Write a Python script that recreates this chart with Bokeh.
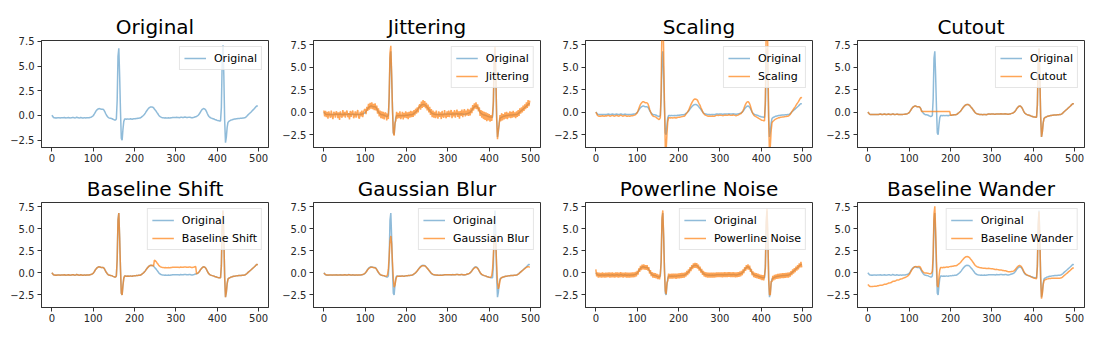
from bokeh.plotting import figure
from bokeh.layouts import column, row
from bokeh.models import Range1d, FixedTicker, CustomJSTickFormatter, Legend, LegendItem
from bokeh.embed import file_html
from bokeh.resources import INLINE

# sample index of every stored value (every 2nd sample of the 500-sample ECG strip)
SAMPLE_INDEX = list(range(0, 500, 2))

ORIGINAL = [
    0.02, -0.08, -0.2, -0.24, -0.25, -0.24, -0.25, -0.24, -0.23, -0.24, -0.25, -0.24, -0.23, -0.24, -0.22, -0.2, -0.22, -0.25, -0.24, -0.22, -0.2, -0.22, -0.25, -0.24, -0.22,
    -0.2, -0.21, -0.24, -0.25, -0.22, -0.18, -0.2, -0.24, -0.25, -0.23, -0.2, -0.22, -0.25, -0.25, -0.24, -0.24, -0.25, -0.24, -0.23, -0.22, -0.22, -0.2, -0.18, -0.15, -0.1,
    -0.03, 0.1, 0.25, 0.4, 0.52, 0.6, 0.66, 0.7, 0.69, 0.65, 0.62, 0.63, 0.62, 0.55, 0.4, 0.2, 0.05, -0.08, -0.18, -0.24, -0.27, -0.28, -0.3, -0.33, -0.38,
    -0.42, -0.47, -0.45, -0.35, 1.5, 6.0, 6.8, 4.0, 0.5, -2.3, -2.5, -1.4, -0.6, -0.35, -0.35, -0.38, -0.36, -0.35, -0.37, -0.36, -0.34, -0.36, -0.38, -0.35, -0.33,
    -0.32, -0.33, -0.3, -0.3, -0.28, -0.27, -0.26, -0.25, -0.2, -0.12, -0.05, 0.03, 0.12, 0.24, 0.38, 0.5, 0.62, 0.72, 0.8, 0.85, 0.87, 0.86, 0.84, 0.78, 0.66,
    0.55, 0.45, 0.32, 0.2, 0.06, -0.05, -0.12, -0.17, -0.2, -0.22, -0.24, -0.25, -0.24, -0.25, -0.26, -0.25, -0.24, -0.25, -0.26, -0.24, -0.22, -0.2, -0.2, -0.21, -0.2,
    -0.2, -0.19, -0.2, -0.21, -0.22, -0.2, -0.18, -0.19, -0.2, -0.2, -0.18, -0.16, -0.18, -0.2, -0.2, -0.19, -0.17, -0.18, -0.2, -0.22, -0.22, -0.2, -0.18, -0.15, -0.12,
    -0.1, -0.05, 0.02, 0.12, 0.25, 0.4, 0.52, 0.62, 0.68, 0.7, 0.65, 0.56, 0.4, 0.2, 0.02, -0.1, -0.18, -0.23, -0.27, -0.3, -0.33, -0.36, -0.4, -0.43, -0.46,
    -0.5, -0.52, -0.53, -0.55, -0.55, 0.8, 5.5, 7.1, 4.0, -0.5, -2.75, -2.2, -1.2, -0.7, -0.6, -0.55, -0.5, -0.45, -0.43, -0.4, -0.38, -0.36, -0.35, -0.33, -0.32,
    -0.31, -0.3, -0.3, -0.29, -0.28, -0.27, -0.26, -0.25, -0.24, -0.2, -0.14, -0.06, 0.04, 0.12, 0.2, 0.28, 0.36, 0.45, 0.54, 0.62, 0.7, 0.8, 0.9, 0.98, 0.92,
]

JITTERING = [
    0.2, -0.45, 0.15, -0.55, 0.05, -0.7, 0.1, -0.3, -0.6, 0.2, -0.45, -0.75, 0.05, -0.1, -0.6, 0.1, -0.05, -0.65, 0.0, -0.85, 0.1, -0.4, -0.6, 0.25, -0.45,
    0.05, -0.6, 0.0, 0.2, -0.55, -0.1, -0.8, 0.15, -0.5, 0.0, 0.2, -0.65, -0.4, 0.1, -0.6, -0.05, 0.25, -0.55, -0.7, 0.05, -0.45, 0.2, -0.55, 0.0, 0.3,
    0.35, -0.2, 0.6, 0.15, 0.95, 0.3, 1.05, 0.4, 1.1, 0.35, 0.95, 0.25, 1.0, 0.2, 0.75, -0.15, 0.45, -0.45, 0.2, -0.65, 0.1, -0.7, 0.05, -0.8, -0.05,
    -0.1, -0.9, -0.15, -0.75, 1.9, 6.6, 7.4, 4.3, 0.3, -2.2, -2.6, -1.2, -0.95, 0.05, -0.7, -0.05, -0.65, 0.1, -0.75, -0.45, 0.05, -0.8, -0.05, -0.6, 0.1,
    -0.65, 0.0, -0.75, 0.05, -0.6, 0.15, -0.55, 0.1, -0.5, 0.25, -0.35, 0.4, -0.15, 0.55, 0.0, 0.7, 0.9, 0.3, 1.2, 0.5, 1.35, 0.6, 1.25, 0.45, 1.05,
    0.2, 0.85, 0.0, 0.6, -0.3, 0.35, -0.55, 0.2, -0.6, 0.05, -0.65, 0.2, -0.45, -0.7, 0.1, -0.5, 0.0, -0.75, 0.15, -0.45, -0.6, 0.25, -0.4, -0.65, 0.1,
    -0.5, 0.2, -0.55, 0.0, 0.25, -0.65, 0.05, -0.45, 0.25, -0.6, -0.05, 0.3, -0.5, 0.1, -0.7, 0.15, -0.4, 0.3, -0.55, 0.05, 0.35, -0.45, 0.2, -0.35, 0.4,
    -0.4, 0.3, -0.35, 0.5, -0.1, 0.8, 0.2, 1.0, 0.4, 1.1, 0.35, 0.9, 0.1, 0.55, -0.4, 0.25, -0.6, 0.15, -0.75, 0.05, -0.85, 0.0, -1.0, -0.1, -0.9,
    -0.2, -1.05, -0.3, -0.95, -0.2, 1.2, 6.0, 7.3, 4.2, -0.8, -3.0, -2.0, -1.4, -0.3, -1.0, -0.1, -0.9, -0.2, -0.8, 0.0, -0.7, 0.05, -0.75, -0.05, -0.6,
    0.1, -0.65, 0.05, -0.6, 0.15, -0.55, 0.0, -0.65, 0.1, -0.5, 0.25, -0.4, 0.45, -0.15, 0.55, 0.0, 0.75, 0.15, 0.9, 0.35, 1.1, 0.5, 1.35, 0.7, 1.3,
]

SCALING = [
    0.03, -0.14, -0.34, -0.41, -0.43, -0.41, -0.43, -0.41, -0.39, -0.41, -0.43, -0.41, -0.39, -0.41, -0.37, -0.34, -0.37, -0.43, -0.41, -0.37, -0.34, -0.37, -0.43, -0.41, -0.37,
    -0.34, -0.36, -0.41, -0.43, -0.37, -0.31, -0.34, -0.41, -0.43, -0.39, -0.34, -0.37, -0.43, -0.43, -0.41, -0.41, -0.43, -0.41, -0.39, -0.37, -0.37, -0.34, -0.31, -0.26, -0.17,
    -0.05, 0.17, 0.43, 0.68, 0.88, 1.02, 1.12, 1.19, 1.17, 1.11, 1.05, 1.07, 1.05, 0.94, 0.68, 0.34, 0.09, -0.14, -0.31, -0.41, -0.46, -0.48, -0.51, -0.56, -0.65,
    -0.71, -0.8, -0.77, -0.6, 2.55, 10.2, 11.56, 6.8, 0.85, -3.91, -4.25, -2.38, -1.02, -0.6, -0.6, -0.65, -0.61, -0.6, -0.63, -0.61, -0.58, -0.61, -0.65, -0.6, -0.56,
    -0.54, -0.56, -0.51, -0.51, -0.48, -0.46, -0.44, -0.43, -0.34, -0.2, -0.09, 0.05, 0.2, 0.41, 0.65, 0.85, 1.05, 1.22, 1.36, 1.45, 1.48, 1.46, 1.43, 1.33, 1.12,
    0.94, 0.77, 0.54, 0.34, 0.1, -0.09, -0.2, -0.29, -0.34, -0.37, -0.41, -0.43, -0.41, -0.43, -0.44, -0.43, -0.41, -0.43, -0.44, -0.41, -0.37, -0.34, -0.34, -0.36, -0.34,
    -0.34, -0.32, -0.34, -0.36, -0.37, -0.34, -0.31, -0.32, -0.34, -0.34, -0.31, -0.27, -0.31, -0.34, -0.34, -0.32, -0.29, -0.31, -0.34, -0.37, -0.37, -0.34, -0.31, -0.26, -0.2,
    -0.17, -0.09, 0.03, 0.2, 0.43, 0.68, 0.88, 1.05, 1.16, 1.19, 1.11, 0.95, 0.68, 0.34, 0.03, -0.17, -0.31, -0.39, -0.46, -0.51, -0.56, -0.61, -0.68, -0.73, -0.78,
    -0.85, -0.88, -0.9, -0.94, -0.94, 1.36, 9.35, 12.07, 6.8, -0.85, -4.68, -3.74, -2.04, -1.19, -1.02, -0.94, -0.85, -0.77, -0.73, -0.68, -0.65, -0.61, -0.6, -0.56, -0.54,
    -0.53, -0.51, -0.51, -0.49, -0.48, -0.46, -0.44, -0.43, -0.41, -0.34, -0.24, -0.1, 0.07, 0.2, 0.34, 0.48, 0.61, 0.77, 0.92, 1.05, 1.19, 1.36, 1.53, 1.67, 1.56,
]

CUTOUT = [
    0.02, -0.08, -0.2, -0.24, -0.25, -0.24, -0.25, -0.24, -0.23, -0.24, -0.25, -0.24, -0.23, -0.24, -0.22, -0.2, -0.22, -0.25, -0.24, -0.22, -0.2, -0.22, -0.25, -0.24, -0.22,
    -0.2, -0.21, -0.24, -0.25, -0.22, -0.18, -0.2, -0.24, -0.25, -0.23, -0.2, -0.22, -0.25, -0.25, -0.24, -0.24, -0.25, -0.24, -0.23, -0.22, -0.22, -0.2, -0.18, -0.15, -0.1,
    -0.03, 0.1, 0.25, 0.4, 0.52, 0.6, 0.66, 0.7, 0.69, 0.65, 0.62, 0.63, 0.62, 0.55, 0.4, 0.1, 0.1, 0.1, 0.1, 0.1, 0.1, 0.1, 0.1, 0.1, 0.1,
    0.1, 0.1, 0.1, 0.1, 0.1, 0.1, 0.1, 0.1, 0.1, 0.1, 0.1, 0.1, 0.1, 0.1, 0.1, 0.1, 0.1, 0.1, 0.1, 0.1, 0.1, 0.1, 0.1, 0.1, 0.1,
    -0.32, -0.33, -0.3, -0.3, -0.28, -0.27, -0.26, -0.25, -0.2, -0.12, -0.05, 0.03, 0.12, 0.24, 0.38, 0.5, 0.62, 0.72, 0.8, 0.85, 0.87, 0.86, 0.84, 0.78, 0.66,
    0.55, 0.45, 0.32, 0.2, 0.06, -0.05, -0.12, -0.17, -0.2, -0.22, -0.24, -0.25, -0.24, -0.25, -0.26, -0.25, -0.24, -0.25, -0.26, -0.24, -0.22, -0.2, -0.2, -0.21, -0.2,
    -0.2, -0.19, -0.2, -0.21, -0.22, -0.2, -0.18, -0.19, -0.2, -0.2, -0.18, -0.16, -0.18, -0.2, -0.2, -0.19, -0.17, -0.18, -0.2, -0.22, -0.22, -0.2, -0.18, -0.15, -0.12,
    -0.1, -0.05, 0.02, 0.12, 0.25, 0.4, 0.52, 0.62, 0.68, 0.7, 0.65, 0.56, 0.4, 0.2, 0.02, -0.1, -0.18, -0.23, -0.27, -0.3, -0.33, -0.36, -0.4, -0.43, -0.46,
    -0.5, -0.52, -0.53, -0.55, -0.55, 0.8, 5.5, 7.1, 4.0, -0.5, -2.75, -2.2, -1.2, -0.7, -0.6, -0.55, -0.5, -0.45, -0.43, -0.4, -0.38, -0.36, -0.35, -0.33, -0.32,
    -0.31, -0.3, -0.3, -0.29, -0.28, -0.27, -0.26, -0.25, -0.24, -0.2, -0.14, -0.06, 0.04, 0.12, 0.2, 0.28, 0.36, 0.45, 0.54, 0.62, 0.7, 0.8, 0.9, 0.98, 0.92,
]

BASELINE_SHIFT = [
    0.02, -0.08, -0.2, -0.24, -0.25, -0.24, -0.25, -0.24, -0.23, -0.24, -0.25, -0.24, -0.23, -0.24, -0.22, -0.2, -0.22, -0.25, -0.24, -0.22, -0.2, -0.22, -0.25, -0.24, -0.22,
    -0.2, -0.21, -0.24, -0.25, -0.22, -0.18, -0.2, -0.24, -0.25, -0.23, -0.2, -0.22, -0.25, -0.25, -0.24, -0.24, -0.25, -0.24, -0.23, -0.22, -0.22, -0.2, -0.18, -0.15, -0.1,
    -0.03, 0.1, 0.25, 0.4, 0.52, 0.6, 0.66, 0.7, 0.69, 0.65, 0.62, 0.63, 0.62, 0.55, 0.4, 0.2, 0.05, -0.08, -0.18, -0.24, -0.27, -0.28, -0.3, -0.33, -0.38,
    -0.42, -0.47, -0.45, -0.35, 1.5, 6.0, 6.8, 4.0, 0.5, -2.3, -2.5, -1.4, -0.6, -0.35, -0.35, -0.38, -0.36, -0.35, -0.37, -0.36, -0.34, -0.36, -0.38, -0.35, -0.33,
    -0.32, -0.33, -0.3, -0.3, -0.28, -0.27, -0.26, -0.25, -0.2, -0.12, -0.05, 0.03, 0.12, 0.24, 0.38, 0.5, 0.62, 0.72, 0.8, 0.85, 0.87, 0.86, 0.84, 0.78, 1.45,
    1.4, 1.3, 1.17, 1.05, 0.91, 0.8, 0.73, 0.68, 0.65, 0.63, 0.61, 0.6, 0.61, 0.6, 0.59, 0.6, 0.61, 0.6, 0.59, 0.61, 0.63, 0.65, 0.65, 0.64, 0.65,
    0.65, 0.66, 0.65, 0.64, 0.63, 0.65, 0.67, 0.66, 0.65, 0.65, 0.67, 0.69, 0.67, 0.65, 0.65, 0.66, 0.68, 0.67, 0.65, 0.63, 0.63, 0.65, 0.67, 0.7, 0.73,
    -0.1, -0.05, 0.02, 0.12, 0.25, 0.4, 0.52, 0.62, 0.68, 0.7, 0.65, 0.56, 0.4, 0.2, 0.02, -0.1, -0.18, -0.23, -0.27, -0.3, -0.33, -0.36, -0.4, -0.43, -0.46,
    -0.5, -0.52, -0.53, -0.55, -0.55, 0.8, 5.5, 7.1, 4.0, -0.5, -2.75, -2.2, -1.2, -0.7, -0.6, -0.55, -0.5, -0.45, -0.43, -0.4, -0.38, -0.36, -0.35, -0.33, -0.32,
    -0.31, -0.3, -0.3, -0.29, -0.28, -0.27, -0.26, -0.25, -0.24, -0.2, -0.14, -0.06, 0.04, 0.12, 0.2, 0.28, 0.36, 0.45, 0.54, 0.62, 0.7, 0.8, 0.9, 0.98, 0.92,
]

GAUSSIAN_BLUR = [
    -0.02, -0.1, -0.17, -0.22, -0.24, -0.24, -0.24, -0.24, -0.24, -0.24, -0.24, -0.24, -0.24, -0.23, -0.22, -0.22, -0.23, -0.23, -0.23, -0.22, -0.22, -0.23, -0.23, -0.23, -0.22,
    -0.21, -0.22, -0.23, -0.23, -0.22, -0.2, -0.21, -0.23, -0.24, -0.23, -0.22, -0.23, -0.24, -0.24, -0.24, -0.24, -0.24, -0.24, -0.23, -0.22, -0.21, -0.19, -0.17, -0.13, -0.08,
    0.0, 0.1, 0.23, 0.36, 0.47, 0.56, 0.62, 0.65, 0.66, 0.64, 0.62, 0.6, 0.57, 0.5, 0.38, 0.22, 0.08, -0.05, -0.15, -0.22, -0.26, -0.28, -0.3, -0.32, -0.34,
    -0.36, -0.35, -0.2, 0.4, 1.9, 3.6, 4.2, 3.3, 1.2, -0.6, -1.6, -1.4, -0.8, -0.45, -0.37, -0.36, -0.36, -0.36, -0.36, -0.35, -0.35, -0.36, -0.36, -0.35, -0.33,
    -0.32, -0.31, -0.3, -0.29, -0.28, -0.27, -0.25, -0.22, -0.17, -0.11, -0.04, 0.04, 0.13, 0.25, 0.37, 0.49, 0.6, 0.69, 0.76, 0.81, 0.83, 0.83, 0.8, 0.74, 0.65,
    0.54, 0.43, 0.31, 0.19, 0.07, -0.03, -0.1, -0.16, -0.19, -0.21, -0.23, -0.24, -0.24, -0.25, -0.25, -0.25, -0.25, -0.25, -0.25, -0.24, -0.22, -0.21, -0.2, -0.2, -0.2,
    -0.2, -0.2, -0.2, -0.21, -0.21, -0.2, -0.19, -0.19, -0.2, -0.19, -0.18, -0.17, -0.18, -0.19, -0.2, -0.19, -0.18, -0.18, -0.2, -0.21, -0.21, -0.2, -0.18, -0.15, -0.12,
    -0.09, -0.04, 0.03, 0.12, 0.24, 0.37, 0.48, 0.57, 0.63, 0.64, 0.6, 0.51, 0.38, 0.22, 0.06, -0.07, -0.16, -0.22, -0.26, -0.3, -0.33, -0.36, -0.4, -0.43, -0.45,
    -0.48, -0.5, -0.48, -0.3, 0.4, 2.0, 3.8, 4.4, 3.2, 0.9, -1.1, -1.8, -1.5, -0.9, -0.6, -0.52, -0.48, -0.45, -0.42, -0.4, -0.38, -0.36, -0.35, -0.33, -0.32,
    -0.31, -0.3, -0.3, -0.29, -0.28, -0.27, -0.26, -0.25, -0.23, -0.2, -0.14, -0.07, 0.02, 0.1, 0.18, 0.26, 0.34, 0.42, 0.5, 0.57, 0.63, 0.68, 0.72, 0.7, 0.62,
]

POWERLINE_NOISE = [
    0.4, -0.38, 0.08, -0.52, 0.03, -0.5, 0.02, -0.53, 0.06, -0.5, 0.02, -0.53, 0.05, -0.51, 0.05, -0.47, 0.06, -0.52, 0.03, -0.5, 0.08, -0.49, 0.02, -0.52, 0.06,
    -0.47, 0.07, -0.52, 0.03, -0.5, 0.1, -0.48, 0.04, -0.53, 0.05, -0.48, 0.06, -0.53, 0.03, -0.52, 0.04, -0.53, 0.04, -0.51, 0.06, -0.5, 0.08, -0.46, 0.13, -0.38,
    0.25, -0.18, 0.53, 0.12, 0.8, 0.32, 0.94, 0.42, 0.97, 0.37, 0.9, 0.35, 0.9, 0.27, 0.68, -0.08, 0.33, -0.36, 0.1, -0.52, 0.01, -0.56, -0.02, -0.61, -0.1,
    -0.7, -0.19, -0.73, -0.07, 1.22, 6.3, 7.1, 4.28, 0.22, -2.02, -2.4, -1.12, -0.88, -0.07, -0.63, -0.1, -0.64, -0.07, -0.65, -0.08, -0.62, -0.08, -0.66, -0.07, -0.61,
    -0.04, -0.61, -0.02, -0.58, 0.0, -0.55, 0.02, -0.53, 0.08, -0.4, 0.23, -0.25, 0.4, -0.04, 0.66, 0.22, 0.9, 0.44, 1.08, 0.57, 1.15, 0.58, 1.12, 0.5, 0.94,
    0.27, 0.73, 0.04, 0.48, -0.22, 0.23, -0.4, 0.11, -0.48, 0.06, -0.52, 0.03, -0.52, 0.03, -0.54, 0.03, -0.52, 0.03, -0.54, 0.04, -0.5, 0.08, -0.48, 0.07, -0.48,
    0.08, -0.47, 0.08, -0.49, 0.06, -0.48, 0.1, -0.47, 0.08, -0.48, 0.1, -0.44, 0.1, -0.48, 0.08, -0.47, 0.11, -0.46, 0.08, -0.5, 0.06, -0.48, 0.1, -0.43, 0.16,
    -0.38, 0.23, -0.26, 0.4, -0.03, 0.68, 0.24, 0.9, 0.4, 0.98, 0.37, 0.84, 0.12, 0.48, -0.26, 0.18, -0.46, 0.05, -0.55, -0.02, -0.61, -0.08, -0.68, -0.15, -0.74,
    -0.22, -0.8, -0.25, -0.83, -0.27, 0.52, 5.78, 7.3, 4.28, -0.78, -2.47, -2.48, -0.92, -0.98, -0.32, -0.83, -0.22, -0.73, -0.15, -0.68, -0.1, -0.64, -0.07, -0.61, -0.04,
    -0.59, -0.02, -0.58, -0.01, -0.56, 0.01, -0.54, 0.03, -0.52, 0.08, -0.42, 0.22, -0.24, 0.4, -0.08, 0.56, 0.08, 0.73, 0.26, 0.9, 0.42, 1.08, 0.62, 1.26, 0.64,
]

BASELINE_WANDER = [
    -1.3, -1.4, -1.51, -1.55, -1.55, -1.54, -1.54, -1.52, -1.5, -1.5, -1.5, -1.48, -1.45, -1.45, -1.41, -1.38, -1.38, -1.39, -1.36, -1.32, -1.28, -1.28, -1.28, -1.24, -1.2,
    -1.15, -1.13, -1.12, -1.1, -1.03, -0.96, -0.94, -0.95, -0.92, -0.87, -0.8, -0.79, -0.79, -0.76, -0.72, -0.69, -0.67, -0.63, -0.59, -0.55, -0.52, -0.47, -0.42, -0.36, -0.28,
    -0.18, -0.03, 0.15, 0.32, 0.47, 0.57, 0.66, 0.72, 0.73, 0.71, 0.7, 0.73, 0.74, 0.7, 0.57, 0.35, 0.22, 0.11, 0.04, 0.0, -0.01, -0.01, -0.02, -0.04, -0.08,
    -0.09, -0.09, 0.0, 0.18, 2.12, 6.7, 7.56, 4.8, 1.34, -1.43, -1.6, -0.48, 0.34, 0.61, 0.62, 0.6, 0.63, 0.65, 0.63, 0.65, 0.68, 0.67, 0.65, 0.69, 0.72,
    0.73, 0.73, 0.76, 0.77, 0.79, 0.81, 0.82, 0.83, 0.88, 0.96, 1.03, 1.1, 1.19, 1.3, 1.43, 1.54, 1.65, 1.74, 1.81, 1.85, 1.86, 1.84, 1.81, 1.74, 1.61,
    1.49, 1.38, 1.24, 1.11, 0.96, 0.85, 0.77, 0.71, 0.67, 0.64, 0.61, 0.59, 0.59, 0.57, 0.55, 0.55, 0.55, 0.53, 0.51, 0.52, 0.52, 0.53, 0.52, 0.5, 0.49,
    0.47, 0.47, 0.44, 0.42, 0.39, 0.4, 0.41, 0.38, 0.36, 0.34, 0.35, 0.35, 0.32, 0.28, 0.27, 0.26, 0.26, 0.24, 0.2, 0.16, 0.15, 0.15, 0.15, 0.16, 0.18,
    0.18, 0.21, 0.27, 0.35, 0.47, 0.6, 0.71, 0.79, 0.84, 0.84, 0.78, 0.68, 0.5, 0.29, 0.09, -0.04, -0.13, -0.19, -0.25, -0.29, -0.33, -0.37, -0.42, -0.47, -0.51,
    -0.56, -0.59, -0.61, -0.64, -0.65, 0.69, 5.38, 6.97, 3.86, -0.65, -2.91, -2.37, -1.37, -0.88, -0.79, -0.75, -0.71, -0.67, -0.66, -0.64, -0.63, -0.62, -0.61, -0.6, -0.6,
    -0.6, -0.6, -0.6, -0.6, -0.6, -0.59, -0.59, -0.59, -0.58, -0.55, -0.49, -0.42, -0.32, -0.25, -0.17, -0.09, -0.02, 0.07, 0.16, 0.23, 0.31, 0.41, 0.5, 0.58, 0.52,
]

PANEL_TITLES = ["Original", "Jittering", "Scaling", "Cutout",
                "Baseline Shift", "Gaussian Blur", "Powerline Noise", "Baseline Wander"]
AUGMENTED = [None, JITTERING, SCALING, CUTOUT,
             BASELINE_SHIFT, GAUSSIAN_BLUR, POWERLINE_NOISE, BASELINE_WANDER]
X_TICKS = [0, 100, 200, 300, 400, 500]
Y_TICKS = [-2.5, 0.0, 2.5, 5.0, 7.5]

for arr in [ORIGINAL] + AUGMENTED[1:]:
    assert len(arr) == len(SAMPLE_INDEX), len(arr)

FONT = "DejaVu Sans"
BLUE = "#1f77b4"
ORANGE = "#ff7f0e"
SPINE = "#333333"
TEXT = "#262626"
PAGE_PAD = 8  # the page template has no body margin, so reserve it here


def make_panel(title, aug, frame_h, first_col, first_row):
    if aug is None:
        lo, hi = min(ORIGINAL), max(ORIGINAL)
        pad = 0.05 * (hi - lo)
        yr = Range1d(lo - pad, hi + pad)
    else:
        yr = Range1d(-3.92, 8.0)
    p = figure(frame_width=227, frame_height=frame_h,
               x_range=Range1d(-25, 524), y_range=yr,
               output_backend="svg", toolbar_location=None, tools="",
               min_border_left=33 + (PAGE_PAD if first_col else 0),
               min_border_right=11,
               min_border_top=32 + (PAGE_PAD if first_row else 0),
               min_border_bottom=23,
               background_fill_color="white", border_fill_color="white")
    p.title.text = title
    p.title.align = "center"
    p.title.text_font = FONT
    p.title.text_font_size = "20px"
    p.title.text_font_style = "normal"
    p.title.text_color = "black"
    p.title.standoff = 3

    p.xgrid.visible = False
    p.ygrid.visible = False
    p.outline_line_color = SPINE
    p.outline_line_alpha = 1.0
    p.outline_line_width = 1

    for ax in (p.xaxis[0], p.yaxis[0]):
        ax.axis_line_color = SPINE
        ax.major_tick_line_color = SPINE
        ax.minor_tick_line_color = None
        ax.major_tick_out = 4
        ax.major_tick_in = 0
        ax.major_label_text_font = FONT
        ax.major_label_text_font_size = "10px"
        ax.major_label_text_color = TEXT
    p.xaxis.ticker = FixedTicker(ticks=X_TICKS)
    p.yaxis.ticker = FixedTicker(ticks=Y_TICKS)
    p.xaxis.major_label_standoff = 2
    p.yaxis.major_label_standoff = 3
    p.yaxis.formatter = CustomJSTickFormatter(
        code="return tick.toFixed(1).replace('-', '\\u2212');")

    r_orig = p.line(SAMPLE_INDEX, ORIGINAL, line_color=BLUE, line_alpha=0.5, line_width=1.5)
    items = [LegendItem(label="Original", renderers=[r_orig])]
    if aug is not None:
        r_aug = p.line(SAMPLE_INDEX, aug, line_color=ORANGE, line_alpha=0.7, line_width=1.5)
        items.append(LegendItem(label=title, renderers=[r_aug]))

    legend = Legend(items=items, location="top_right",
                    label_text_font=FONT, label_text_font_size="11px",
                    label_text_color="black",
                    glyph_width=22, glyph_height=14, label_height=14,
                    label_standoff=8, spacing=4, padding=4, margin=6,
                    border_line_color="#cccccc", border_line_width=1,
                    background_fill_color="white", background_fill_alpha=0.8)
    p.add_layout(legend)
    return p


panels = []
for i, (t, a) in enumerate(zip(PANEL_TITLES, AUGMENTED)):
    panels.append(make_panel(t, a, 107 if i < 4 else 105, i % 4 == 0, i < 4))

layout = column(row(*panels[:4]), row(*panels[4:]))
open("out.html", "w").write(file_html(layout, INLINE))
